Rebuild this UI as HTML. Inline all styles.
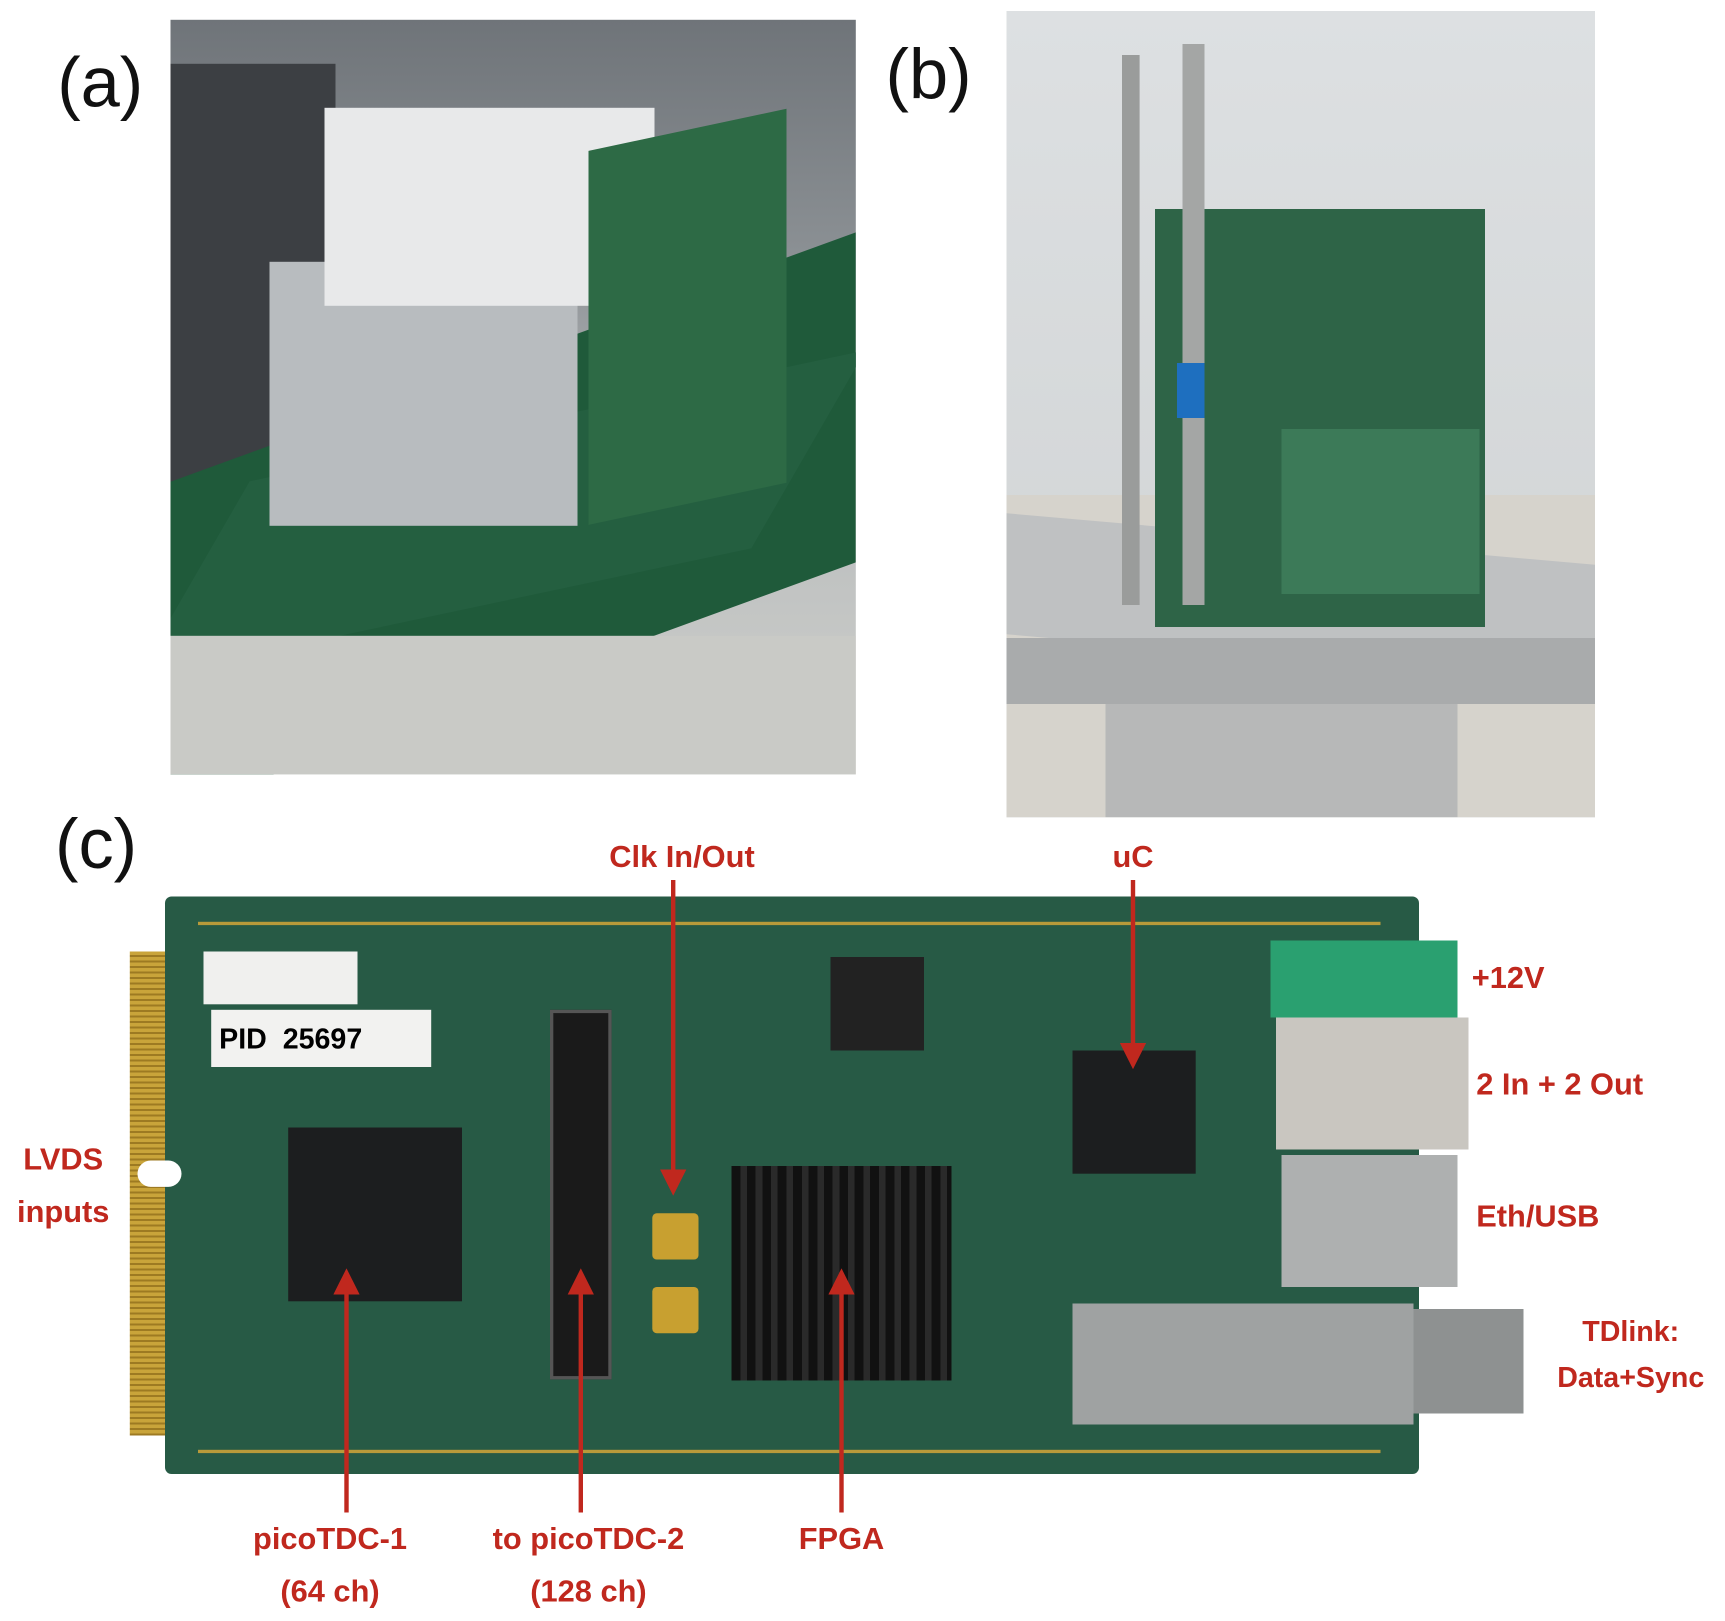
<!DOCTYPE html>
<html><head><meta charset="utf-8"><style>
html,body{margin:0;padding:0;background:#fff;}
#w{width:1725px;height:1621px;overflow:hidden;position:relative;}
#s{position:absolute;left:0;top:0;width:1568px;height:1474px;transform:scale(1.1);transform-origin:0 0;font-family:"Liberation Sans",sans-serif;}
.a{position:absolute;}
.lab{position:absolute;color:#c0281e;font-weight:bold;font-size:28px;text-align:center;line-height:1.7;}
.pl{position:absolute;font-size:64px;color:#111;}
</style></head><body><div id="w"><div id="s">
<div class="pl" style="left:52px;top:38px">(a)</div>
<div class="pl" style="left:805px;top:30px">(b)</div>
<div class="pl" style="left:50px;top:730px">(c)</div>

<!-- photo a -->
<div class="a" style="left:155px;top:18px;width:623px;height:686px;background:linear-gradient(180deg,#6f7479 0%,#8a8f93 30%,#b9bcbd 60%,#cfd0cc 100%);overflow:hidden">
  <div class="a" style="left:0;top:40px;width:150px;height:640px;background:#3c3f43"></div>
  <div class="a" style="left:0;top:300px;width:623px;height:300px;background:#1f5a3a;transform:skewY(-20deg);transform-origin:0 0;top:420px"></div>
  <div class="a" style="left:20px;top:360px;width:560px;height:180px;background:#245f40;transform:skew(-30deg,-12deg)"></div>
  <div class="a" style="left:90px;top:220px;width:280px;height:240px;background:#b8bcbf"></div>
  <div class="a" style="left:140px;top:80px;width:300px;height:180px;background:#e8e9ea"></div>
  <div class="a" style="left:380px;top:100px;width:180px;height:340px;background:#2d6a45;transform:skewY(-12deg)"></div>
  <div class="a" style="left:0;top:560px;width:623px;height:126px;background:#c9cac6"></div>
</div>

<!-- photo b -->
<div class="a" style="left:915px;top:10px;width:535px;height:733px;background:linear-gradient(180deg,#dde0e2,#cfd2d3);overflow:hidden">
  <div class="a" style="left:0;top:440px;width:535px;height:293px;background:#d6d3cc"></div>
  <div class="a" style="left:0;top:480px;width:535px;height:110px;background:#bfc1c2;transform:skewY(5deg)"></div>
  <div class="a" style="left:0;top:570px;width:535px;height:60px;background:#a9abac"></div>
  <div class="a" style="left:90px;top:630px;width:320px;height:103px;background:#b7b8b8"></div>
  <div class="a" style="left:135px;top:180px;width:300px;height:380px;background:#2e6447"></div>
  <div class="a" style="left:250px;top:380px;width:180px;height:150px;background:#3c7a58"></div>
  <div class="a" style="left:105px;top:40px;width:16px;height:500px;background:#9a9c9b"></div>
  <div class="a" style="left:160px;top:30px;width:20px;height:510px;background:#a4a6a5"></div>
  <div class="a" style="left:155px;top:320px;width:25px;height:50px;background:#1e6fbf"></div>
</div>

<!-- board c -->
<div class="a" style="left:118px;top:865px;width:40px;height:440px;background:repeating-linear-gradient(180deg,#c9a43a 0 3px,#9d7a22 3px 5px)"></div>
<div class="a" style="left:150px;top:815px;width:1140px;height:525px;background:#275a45;border-radius:6px"></div>
<div class="a" style="left:180px;top:820px;width:1075px;height:18px;border-bottom:3px solid #b89a3a"></div>
<div class="a" style="left:180px;top:1318px;width:1075px;height:3px;background:#b89a3a"></div>
<div class="a" style="left:125px;top:1055px;width:40px;height:24px;background:#fff;border-radius:12px"></div>
<div class="a" style="left:185px;top:865px;width:140px;height:48px;background:#f0f0ee"></div>
<div class="a" style="left:192px;top:918px;width:200px;height:52px;background:#f2f2f0;font-weight:bold;font-size:26px;line-height:52px">&nbsp;PID &nbsp;25697</div>
<div class="a" style="left:262px;top:1025px;width:158px;height:158px;background:#1c1e1f"></div>
<div class="a" style="left:500px;top:918px;width:50px;height:330px;background:#1a1a1a;border:3px solid #555"></div>
<div class="a" style="left:665px;top:1060px;width:200px;height:195px;background:repeating-linear-gradient(90deg,#111 0 8px,#2a2a2a 8px 14px)"></div>
<div class="a" style="left:975px;top:955px;width:112px;height:112px;background:#1c1e1f"></div>
<div class="a" style="left:755px;top:870px;width:85px;height:85px;background:#222"></div>
<div class="a" style="left:593px;top:1103px;width:42px;height:42px;background:#c8a030;border-radius:4px"></div>
<div class="a" style="left:593px;top:1170px;width:42px;height:42px;background:#c8a030;border-radius:4px"></div>
<div class="a" style="left:1155px;top:855px;width:170px;height:70px;background:#2aa070"></div>
<div class="a" style="left:1160px;top:925px;width:175px;height:120px;background:#c9c6c0"></div>
<div class="a" style="left:1165px;top:1050px;width:160px;height:120px;background:#aeb0b0"></div>
<div class="a" style="left:975px;top:1185px;width:310px;height:110px;background:#9fa2a2"></div>
<div class="a" style="left:1285px;top:1190px;width:100px;height:95px;background:#8e9191"></div>

<!-- arrows -->
<svg class="a" style="left:0;top:0" width="1568" height="1474">
<defs><marker id="m" markerWidth="6" markerHeight="6" refX="3" refY="3" orient="auto"><path d="M0,0L6,3L0,6z" fill="#c0281e"/></marker></defs>
<g stroke="#c0281e" stroke-width="4" fill="none">
<line x1="612" y1="800" x2="612" y2="1075" marker-end="url(#m)"/>
<line x1="1030" y1="800" x2="1030" y2="960" marker-end="url(#m)"/>
<line x1="315" y1="1375" x2="315" y2="1165" marker-end="url(#m)"/>
<line x1="528" y1="1375" x2="528" y2="1165" marker-end="url(#m)"/>
<line x1="765" y1="1375" x2="765" y2="1165" marker-end="url(#m)"/>
</g></svg>

<div class="lab" style="left:520px;top:755px;width:200px">Clk In/Out</div>
<div class="lab" style="left:990px;top:755px;width:80px">uC</div>
<div class="lab" style="left:1338px;top:865px">+12V</div>
<div class="lab" style="left:1342px;top:962px">2 In + 2 Out</div>
<div class="lab" style="left:1342px;top:1082px">Eth/USB</div>
<div class="lab" style="left:1395px;top:1190px;width:175px;font-size:26px;line-height:1.6">TDlink:<br>Data+Sync</div>
<div class="lab" style="left:0;top:1030px;width:115px">LVDS<br>inputs</div>
<div class="lab" style="left:200px;top:1375px;width:200px">picoTDC-1<br>(64 ch)</div>
<div class="lab" style="left:420px;top:1375px;width:230px">to picoTDC-2<br>(128 ch)</div>
<div class="lab" style="left:700px;top:1375px;width:130px">FPGA</div>
</div></div></body></html>
